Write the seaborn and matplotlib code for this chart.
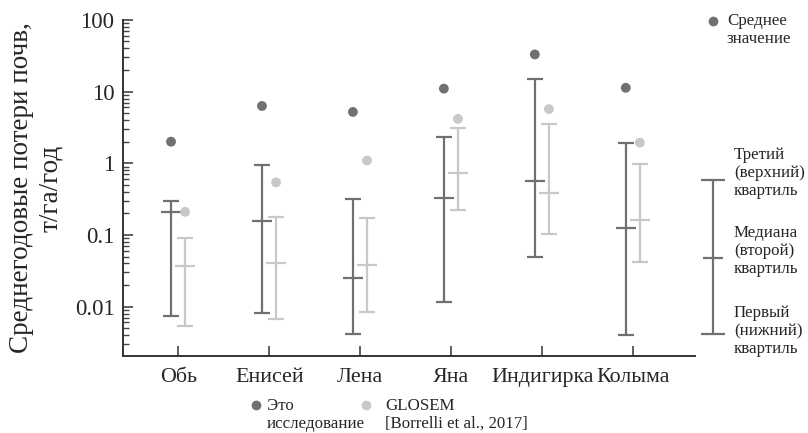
import numpy as np
import pandas as pd
import seaborn as sns
import matplotlib.pyplot as plt
from matplotlib.lines import Line2D

rivers = ['Обь', 'Енисей', 'Лена', 'Яна', 'Индигирка', 'Колыма']

# this study
this_mean = [2.0, 6.3, 5.2, 11.0, 33.0, 11.3]
this_q1 = [0.0075, 0.0081, 0.0042, 0.0115, 0.050, 0.0040]
this_med = [0.21, 0.154, 0.0247, 0.33, 0.56, 0.123]
this_q3 = [0.296, 0.94, 0.315, 2.36, 14.9, 1.94]

# GLOSEM [Borrelli et al., 2017]
glosem_mean = [0.21, 0.54, 1.09, 4.16, 5.7, 1.94]
glosem_q1 = [0.0053, 0.0067, 0.0083, 0.224, 0.104, 0.0425]
glosem_med = [0.0374, 0.0404, 0.0386, 0.74, 0.39, 0.162]
glosem_q3 = [0.091, 0.18, 0.173, 3.15, 3.55, 0.98]

key_quartiles = [0.0042, 0.048, 0.59]

dark = '#707074'
light = '#c8c8c8'

df = pd.concat([
    pd.DataFrame({'source': 'this', 'river': rivers, 'pos': np.arange(6) - 0.08,
                  'mean': this_mean, 'q1': this_q1, 'med': this_med, 'q3': this_q3}),
    pd.DataFrame({'source': 'glosem', 'river': rivers, 'pos': np.arange(6) + 0.075,
                  'mean': glosem_mean, 'q1': glosem_q1, 'med': glosem_med, 'q3': glosem_q3}),
])
colors = {'this': dark, 'glosem': light}

sns.set_style('ticks')
plt.rcParams['font.family'] = ['Liberation Serif', 'DejaVu Serif']

fig = plt.figure(figsize=(8.08, 4.33), dpi=100)
ax = fig.add_axes([0.152, 0.178, 0.708, 0.776])

for src, sub in df.groupby('source', sort=False):
    c = colors[src]
    ax.errorbar(sub['pos'], sub['med'],
                yerr=[sub['med'] - sub['q1'], sub['q3'] - sub['med']],
                fmt='_', ms=14, mew=1.6, color=c, ecolor=c,
                elinewidth=1.6, capsize=5.8, capthick=1.6, zorder=2)

sns.scatterplot(data=df, x='pos', y='mean', hue='source', palette=colors,
                s=50, edgecolor='none', legend=False, ax=ax, zorder=3)

ax.set_yscale('log')
ax.set_ylim(0.00205, 100)
ax.set_xlim(-0.61, 5.68)
ax.set_xticks(range(len(rivers)))
ax.set_xticklabels(rivers, fontsize=15.8)
ax.set_yticks([0.01, 0.1, 1, 10, 100])
ax.set_yticklabels(['0.01', '0.1', '1', '10', '100'], fontsize=16.5)
ax.set_xlabel('')
ax.set_ylabel('')
ax.tick_params(axis='both', which='major', direction='in', length=7, width=1.2,
               color='#444444', pad=6)
ax.tick_params(axis='x', which='major', pad=9)
ax.tick_params(axis='y', which='minor', direction='in', length=4, width=1.0, color='#444444')
sns.despine(ax=ax)
for s in ['left', 'bottom']:
    ax.spines[s].set_linewidth(1.4)
    ax.spines[s].set_color('#333333')

fig.text(36 / 808, 1 - 188 / 433, 'Среднегодовые потери почв,\nт/га/год',
         rotation=90, ha='center', va='center', multialignment='center',
         fontsize=19.5, linespacing=1.25)

# quartile key on the right
kx = 5.879
ax.plot([kx, kx], [key_quartiles[0], key_quartiles[2]], color=dark, lw=1.6, clip_on=False)
ax.plot([kx, kx], [key_quartiles[0], key_quartiles[2]], ls='none', marker='_',
        ms=17, mew=1.6, color=dark, clip_on=False)
ax.plot([kx], [key_quartiles[1]], marker='_', ms=14, mew=1.6, color=dark, clip_on=False)

key_fs = 12.2
for txt, ymid in [('Третий\n(верхний)\nквартиль', 173),
                  ('Медиана\n(второй)\nквартиль', 251),
                  ('Первый\n(нижний)\nквартиль', 331)]:
    fig.text(734 / 808, 1 - ymid / 433, txt, ha='left', va='center',
             fontsize=key_fs, linespacing=1.13)

# mean marker key
fig.add_artist(Line2D([713 / 808], [1 - 21 / 433], marker='o', ms=7, color=dark,
                      mec='none', transform=fig.transFigure))
fig.text(727 / 808, 1 - 30 / 433, 'Среднее\nзначение', ha='left', va='center',
         fontsize=key_fs, linespacing=1.13)

# bottom legend
for x_dot, x_txt, c, txt in [(256, 267, dark, 'Это\nисследование'),
                              (366, 385, light, 'GLOSEM\n[Borrelli et al., 2017]')]:
    fig.add_artist(Line2D([x_dot / 808], [1 - 405 / 433], marker='o', ms=7, color=c,
                          mec='none', transform=fig.transFigure))
    fig.text(x_txt / 808, 1 - 415 / 433, txt, ha='left', va='center',
             fontsize=key_fs, linespacing=1.13)

fig.savefig('out.png', dpi=100)
